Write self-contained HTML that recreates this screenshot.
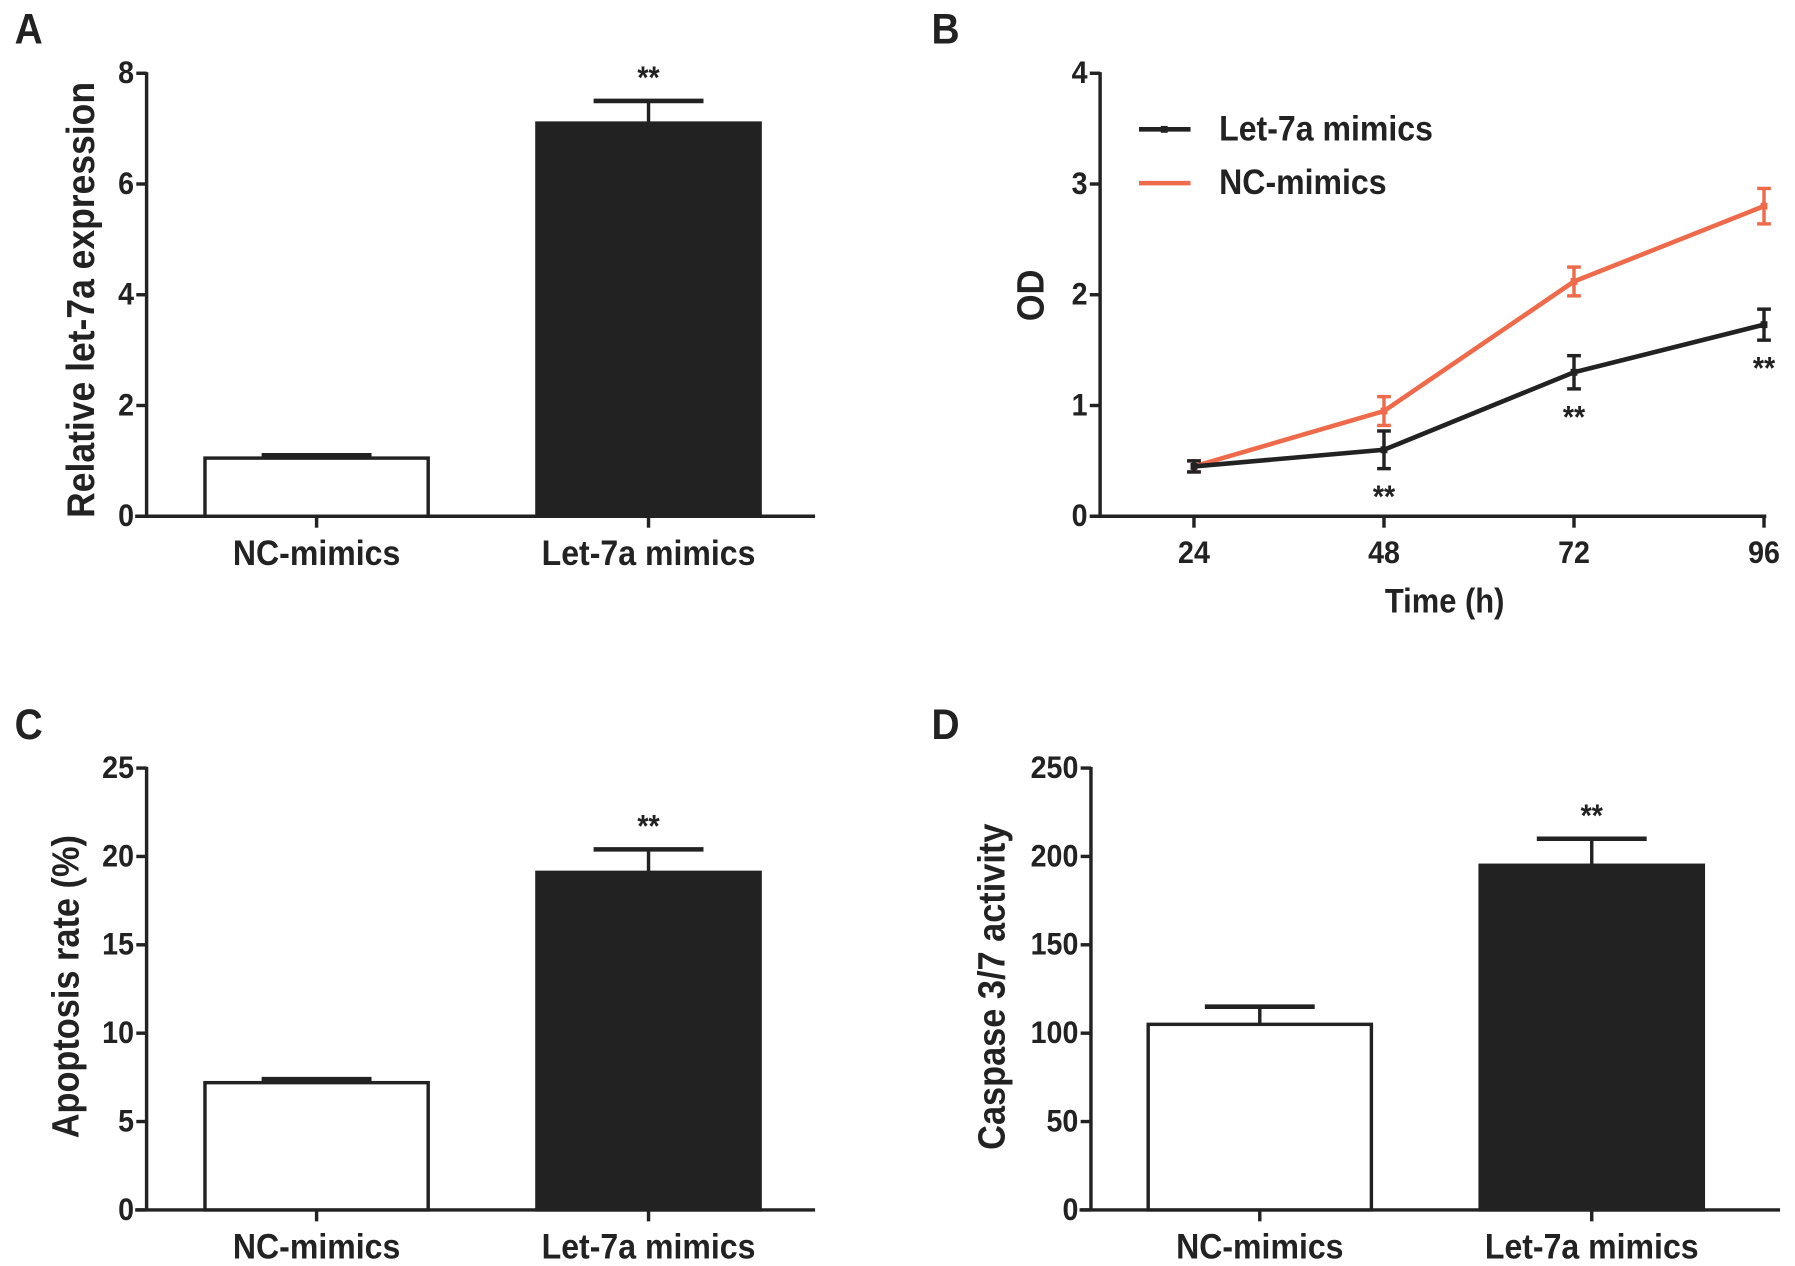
<!DOCTYPE html>
<html><head><meta charset="utf-8"><style>
html,body{margin:0;padding:0;background:#fff;}
svg{display:block;}
text{font-family:"Liberation Sans",sans-serif;font-weight:bold;fill:#222;}
</style></head><body>
<svg id="fig" width="1795" height="1266" viewBox="0 0 1568 1106" xmlns="http://www.w3.org/2000/svg"></svg>
<script>
// Panel A data
const aCategories = ["NC-mimics", "Let-7a mimics"];
const aValues = [1.05, 7.1];
const aErrors = [0.05, 0.4];
const aTicks = [0, 2, 4, 6, 8];
// Panel B data
const bTimes = [24, 48, 72, 96];
const bLet7a = [0.45, 0.6, 1.3, 1.73];
const bLet7aErr = [0.05, 0.17, 0.15, 0.14];
const bNC = [0.45, 0.95, 2.12, 2.8];
const bNCErr = [0.05, 0.13, 0.13, 0.16];
const bYTicks = [0, 1, 2, 3, 4];
// Panel C data
const cCategories = ["NC-mimics", "Let-7a mimics"];
const cValues = [7.2, 19.1];
const cErrors = [0.2, 1.3];
const cTicks = [0, 5, 10, 15, 20, 25];
// Panel D data
const dCategories = ["NC-mimics", "Let-7a mimics"];
const dValues = [105, 195];
const dErrors = [10, 15];
const dTicks = [0, 50, 100, 150, 200, 250];

const svg = document.getElementById('fig');
const NS = "http://www.w3.org/2000/svg";
function mk(tag, attrs, parent){
  const e = document.createElementNS(NS, tag);
  for (const k in attrs) e.setAttribute(k, attrs[k]);
  (parent||svg).appendChild(e);
  return e;
}
// text with slight vertical stretch to mimic condensed font
function txt(s, x, y, size, parent, anchor, rot){
  const t = mk('text', {x:0, y:0, 'font-size':size, 'text-anchor':anchor||'middle', 'dominant-baseline':'central'}, parent);
  t.setAttribute('transform', `translate(${x},${y})` + (rot?` rotate(${rot})`:'') + (rot?' scale(1,1.1)':' scale(1,1.1)'));
  t.textContent = s;
  return t;
}

function barPanel(opt){
  const g = mk('g', {});
  
  
  const yMax = opt.ticks[opt.ticks.length-1];
  const yS = v => opt.y0 - (v / yMax) * (opt.y0 - opt.yTop);
  const lw = 3;
  const letter = txt(opt.letter, opt.letterX, opt.letterY, 34, g);
  
  
  const ya = mk('line', {x1:opt.ax, y1:opt.yTop-1, x2:opt.ax, y2:opt.y0, stroke:'#222','stroke-width':lw}, g);
  
  
  opt.ticks.forEach(t => {
    const y = yS(t);
    mk('line', {x1:opt.ax-9, y1:y, x2:opt.ax, y2:y, stroke:'#222','stroke-width':lw}, g);
    const tl = txt(String(t), opt.ax-11, y, 25, g, 'end');
    
    
  });
  const xa = mk('line', {x1:opt.ax-10, y1:opt.y0, x2:opt.xEnd, y2:opt.y0, stroke:'#222','stroke-width':lw}, g);
  
  
  opt.cats.forEach((c, i) => {
    const x0 = opt.barX[i], w = opt.barW, cx = x0 + w/2;
    const v = opt.vals[i], e = opt.errs[i];
    mk('line', {x1:cx, y1:yS(v), x2:cx, y2:yS(v+e), stroke:'#222','stroke-width':lw}, g);
    mk('line', {x1:cx-48, y1:yS(v+e), x2:cx+48, y2:yS(v+e), stroke:'#222','stroke-width':lw+1}, g);
    const b = mk('rect', {x:x0, y:yS(v), width:w, height:opt.y0-yS(v), fill: i===0?'#fff':'#222', stroke:'#222','stroke-width':lw}, g);
    
    
    mk('line', {x1:cx, y1:opt.y0, x2:cx, y2:opt.y0+10, stroke:'#222','stroke-width':lw}, g);
    const cl = txt(c, cx, opt.y0+33, 28, g);
    
    
    if (i===1){
      const s = txt('**', cx, yS(v+e)-20, 25, g);
      
      
    }
  });
  const yt = txt(opt.ytitle, opt.ytX, opt.ytY, opt.ytSize||30, g, 'middle', -90);
  
  
}

barPanel({name:'panel-a', letter:'A', letterX:25, letterY:25, ax:128, yTop:64, y0:451, xEnd:712,
  ticks:aTicks, cats:aCategories, vals:aValues, errs:aErrors, barX:[179,469], barW:195,
  ytitle:'Relative let-7a expression', ytX:70, ytY:262, ytSize:31});
barPanel({name:'panel-c', letter:'C', letterX:25, letterY:633, ax:128, yTop:671, y0:1057, xEnd:712,
  ticks:cTicks, cats:cCategories, vals:cValues, errs:cErrors, barX:[179,469], barW:195,
  ytitle:'Apoptosis rate (%)', ytX:57, ytY:862});
barPanel({name:'panel-d', letter:'D', letterX:826, letterY:633, ax:953, yTop:671, y0:1057, xEnd:1555,
  ticks:dTicks, cats:dCategories, vals:dValues, errs:dErrors, barX:[1003,1293], barW:195,
  ytitle:'Caspase  3/7 activity', ytX:866, ytY:862});

(function(){
  const g = mk('g', {});
  
  
  const ax = 961, yTop = 64, y0 = 451, lw = 3;
  const yMax = bYTicks[bYTicks.length-1];
  const yS = v => y0 - v / yMax * (y0 - yTop);
  const xS = t => 1043 + (t - bTimes[0]) / (bTimes[bTimes.length-1] - bTimes[0]) * (1541 - 1043);
  const letter = txt('B', 826, 25, 34, g);
  
  
  const ya = mk('line', {x1:ax, y1:yTop-1, x2:ax, y2:y0, stroke:'#222','stroke-width':lw}, g);
  
  
  bYTicks.forEach(t => {
    mk('line', {x1:ax-9, y1:yS(t), x2:ax, y2:yS(t), stroke:'#222','stroke-width':lw}, g);
    const tl = txt(String(t), ax-11, yS(t), 25, g, 'end');
    
    
  });
  const xa = mk('line', {x1:ax-9, y1:y0, x2:1543, y2:y0, stroke:'#222','stroke-width':lw}, g);
  
  
  bTimes.forEach(t => {
    mk('line', {x1:xS(t), y1:y0, x2:xS(t), y2:y0+10, stroke:'#222','stroke-width':lw}, g);
    const tl = txt(String(t), xS(t), y0+32, 25, g);
    
    
  });
  const xt = txt('Time (h)', 1262, 525, 27, g);
  
  
  const yt = txt('OD', 900, 258, 30, g, 'middle', -90);
  
  
  function series(vals, errs, color, name){
    const sg = mk('g', {}, g);
    
    
    mk('polyline', {points: vals.map((v,i)=>xS(bTimes[i])+','+yS(v)).join(' '), fill:'none', stroke:color, 'stroke-width':4}, sg);
    vals.forEach((v,i)=>{
      const x = xS(bTimes[i]);
      mk('line', {x1:x, y1:yS(v-errs[i]), x2:x, y2:yS(v+errs[i]), stroke:color,'stroke-width':3}, sg);
      mk('line', {x1:x-6, y1:yS(v-errs[i]), x2:x+6, y2:yS(v-errs[i]), stroke:color,'stroke-width':3}, sg);
      mk('line', {x1:x-6, y1:yS(v+errs[i]), x2:x+6, y2:yS(v+errs[i]), stroke:color,'stroke-width':3}, sg);
      mk('rect', {x:x-3, y:yS(v)-3, width:6, height:6, fill:color}, sg);
    });
  }
  series(bNC, bNCErr, '#ef6a4a', 'series-nc-mimics');
  series(bLet7a, bLet7aErr, '#222', 'series-let-7a-mimics');
  bTimes.forEach((t,i)=>{
    if (i===0) return;
    const s = txt('**', xS(t), yS(bLet7a[i]-bLet7aErr[i]) + 25, 25, g);
    
    
  });
  const lg = mk('g', {}, g);
  
  
  mk('line', {x1:995, y1:113, x2:1040, y2:113, stroke:'#222','stroke-width':4}, lg);
  mk('rect', {x:1014, y:110, width:6, height:6, fill:'#222'}, lg);
  const l1 = txt('Let-7a mimics', 1065, 113, 28, lg, 'start');
  
  
  mk('line', {x1:995, y1:160, x2:1040, y2:160, stroke:'#ef6a4a','stroke-width':4}, lg);
  const l2 = txt('NC-mimics', 1065, 160, 28, lg, 'start');
  
  
})();
</script>
</body></html>
